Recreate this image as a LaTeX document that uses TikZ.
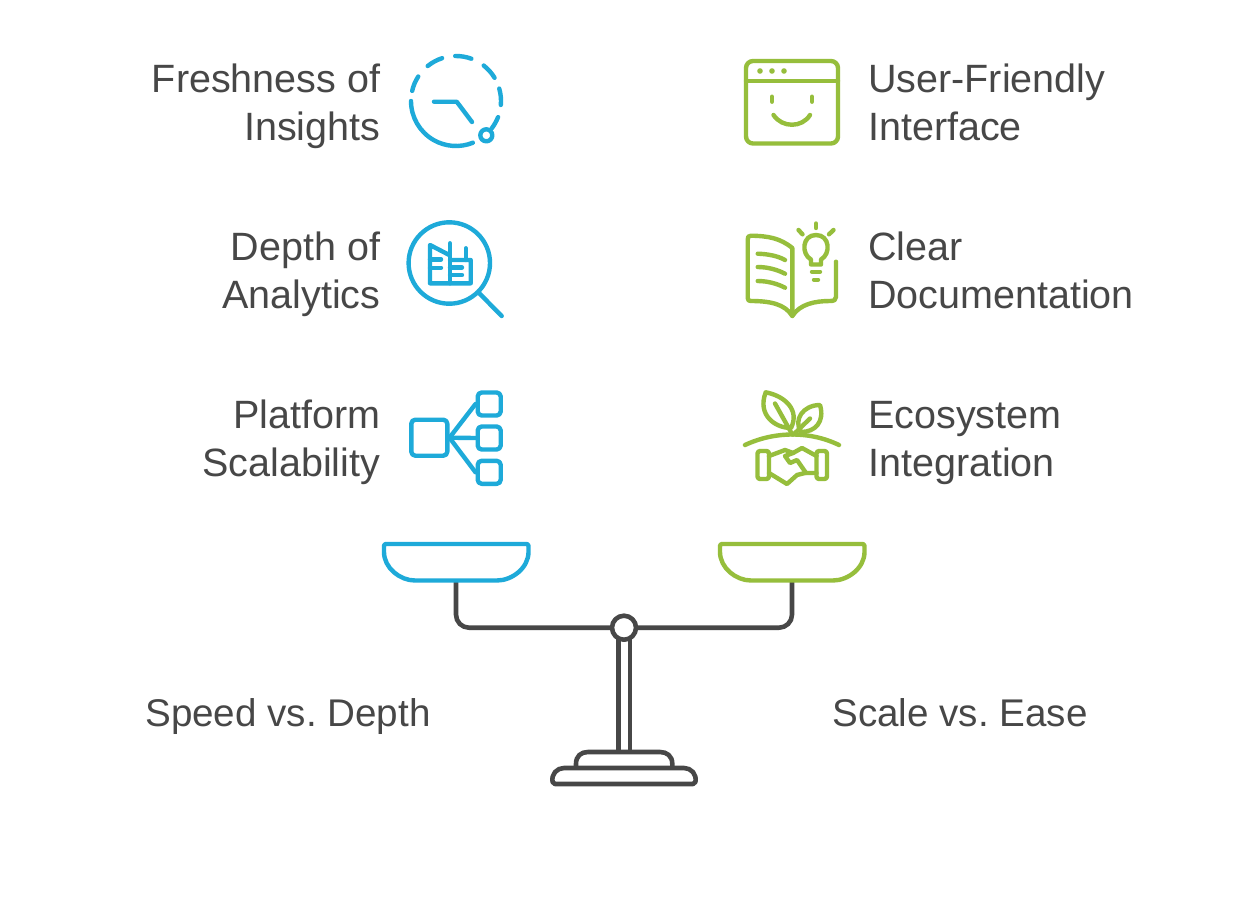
\documentclass[tikz,border=0pt]{standalone}
\usepackage{fontspec}
\setmainfont{Liberation Sans}
\usetikzlibrary{calc}
\definecolor{scaleblue}{RGB}{30,170,217}
\definecolor{scalegreen}{RGB}{150,190,60}
\definecolor{scaledark}{RGB}{71,71,71}
\tikzset{
    bluepen/.style={draw=scaleblue, line width=4.4pt, line cap=round, line join=round},
    greenpen/.style={draw=scalegreen, line width=4.4pt, line cap=round, line join=round},
    darkpen/.style={draw=scaledark, line width=4.6pt, line join=round},
    labeltext/.style={text=scaledark, font=\frenchspacing\fontsize{39.5}{48}\selectfont, inner sep=0pt},
    leftlabel/.style={labeltext, anchor=east, align=right},
    rightlabel/.style={labeltext, anchor=west, align=left},
    sidelabel/.style={labeltext, font=\frenchspacing\fontsize{38.6}{48}\selectfont},
    leafbox/.style={bluepen, rounded corners=4pt, minimum size=23pt, inner sep=0pt}
}

\begin{document}
\begin{tikzpicture}[x=1pt, y=1pt]
    \useasboundingbox (0,0) rectangle (1248,-900);
    \fill[white] (0,0) rectangle (1248,-900);

    % 1. Labels
    \node[leftlabel] (fresh) at (380.5,-107) {\strut Freshness of\\\strut Insights};
    \node[leftlabel] (depth) at (380.5,-275) {\strut Depth of\\\strut Analytics};
    \node[leftlabel] (plat) at (380.5,-443) {\strut Platform\\\strut Scalability};
    \node[rightlabel] (user) at (868,-107) {\strut User-Friendly\\\strut Interface};
    \node[rightlabel] (docs) at (868,-275) {\strut Clear\\\strut Documentation};
    \node[rightlabel] (eco) at (868,-443) {\strut Ecosystem\\\strut Integration};
    \node[sidelabel] (speed) at (288,-717) {\strut Speed vs. Depth};
    \node[sidelabel] (ease) at (960,-717) {\strut Scale vs. Ease};

    % 2. Clock icon
    \coordinate (CK) at (456,-101);
    \foreach \a/\b in {180/292, 147/167, 108/129, 70/91, 31/52, -5/16, -37.5/-21}
        \draw[bluepen] ($(CK)+(\a:45)$) arc (\a:\b:45);
    \draw[bluepen] (434,-101.7) -- (456.7,-101.7) -- (472,-122);
    \draw[bluepen] (486.3,-135.3) circle (6);

    % 3. Magnifier icon
    \coordinate (MG) at (449.3,-263);
    \draw[bluepen] (MG) circle (40.7);
    \draw[bluepen] (479.3,-293.3) -- (501.7,-316);
    \draw[bluepen] (449.3,-255) -- (430,-245) -- (430,-283.3) -- (470.7,-283.3)
        -- (470.7,-260) -- (450,-260);
    \draw[bluepen] (450,-243.3) -- (450,-283.3);
    \draw[bluepen] (465.7,-248.3) -- (465.7,-260);
    \draw[bluepen] (430,-259.3) -- (441,-259.3);
    \draw[bluepen] (430,-267.7) -- (441,-267.7);
    \draw[bluepen] (450,-267.5) -- (462,-267.5);
    \draw[bluepen] (450,-275) -- (462,-275);

    % 4. Tree icon
    \node[leafbox, minimum size=36pt] (hub) at (429.3,-437.7) {};
    \node[leafbox] (leafa) at (489.2,-404) {};
    \node[leafbox] (leafb) at (489.2,-438) {};
    \node[leafbox] (leafc) at (489.2,-472.3) {};
    \draw[bluepen] (hub.east) -- (leafa.west);
    \draw[bluepen] (hub.east) -- (leafb.west);
    \draw[bluepen] (hub.east) -- (leafc.west);

    % 5. Window icon
    \draw[greenpen, rounded corners=7pt] (746,-61) rectangle (838,-143.5);
    \draw[greenpen] (746,-80.7) -- (838,-80.7);
    \foreach \x in {760,772,784}
        \fill[scalegreen] (\x,-71) circle (2.8);
    \draw[greenpen] (772,-96.7) -- (772,-101.7);
    \draw[greenpen] (812,-96.7) -- (812,-101.7);
    \draw[greenpen] (773.5,-115) .. controls (782,-128) and (802,-128) .. (810,-115);

    % 6. Book icon
    \draw[greenpen] (792.3,-248) .. controls (780,-238) and (768,-236) .. (751,-235.7)
        .. controls (748,-235.7) and (747.7,-237) .. (747.7,-240) -- (747.7,-298)
        .. controls (747.7,-300.5) and (749,-301) .. (751,-301)
        .. controls (770,-301) and (785,-304) .. (792.3,-316) -- (792.3,-248);
    \draw[greenpen] (792.3,-316) .. controls (800,-304) and (815,-301) .. (830,-301)
        .. controls (834,-301) and (836,-300) .. (836,-297) -- (836,-261.7);
    \draw[greenpen] (757.7,-253.7) .. controls (768,-254) and (778,-256) .. (785,-260);
    \draw[greenpen] (757.7,-267) .. controls (768,-267) and (778,-270) .. (785,-273.7);
    \draw[greenpen] (757.7,-281) .. controls (768,-281) and (778,-284) .. (785,-287.7);
    \draw[greenpen] (811,-264.5) -- (811,-259.5)
        .. controls (801,-254) and (802,-235) .. (816,-235)
        .. controls (830,-235) and (831,-254) .. (821,-259.5) -- (821,-264.5) -- cycle;
    \draw[greenpen] (812,-271.7) -- (820,-271.7);
    \draw[greenpen] (814,-279.7) -- (818,-279.7);
    \draw[greenpen] (816,-223.5) -- (816,-228);
    \draw[greenpen] (798.5,-230) -- (802.5,-234.3);
    \draw[greenpen] (833.5,-230) -- (829,-234.3);

    % 7. Plant and handshake icon
    \draw[greenpen] (765.7,-392.3) .. controls (785,-396) and (800,-410) .. (791,-428)
        .. controls (775,-428) and (757,-415) .. (765.7,-392.3) -- cycle;
    \draw[greenpen] (775,-403.5) -- (792.3,-434.5);
    \draw[greenpen] (820,-405) .. controls (803,-405) and (793,-420) .. (801,-432)
        .. controls (815,-432) and (825,-422) .. (820,-405) -- cycle;
    \draw[greenpen] (810,-418.5) -- (793.5,-434.5);
    \draw[greenpen] (745,-445) .. controls (775,-431) and (810,-431) .. (839,-445);
    \draw[greenpen, rounded corners=2.5pt] (757.5,-451) rectangle (769,-479);
    \draw[greenpen, rounded corners=2.5pt] (816.5,-451) rectangle (827,-479);
    \draw[greenpen] (769,-456) -- (785,-450) -- (793,-453) -- (802,-448) -- (816.5,-456);
    \draw[greenpen] (769,-473) -- (787,-484) -- (797,-475) -- (805,-473) -- (816.5,-473);
    \draw[greenpen] (793,-453) -- (785,-456) -- (790,-463) -- (797,-460) -- (806,-473);

    % 8. Scale
    \coordinate (PV) at (624,-627.7);
    \draw[darkpen, rounded corners=13pt] (456,-581) -- (456,-627.7) -- (792,-627.7) -- (792,-581);
    \draw[darkpen] (618.3,-638) -- (618.3,-752);
    \draw[darkpen] (630,-638) -- (630,-752);
    \draw[darkpen, fill=white] (PV) circle (12);
    \draw[darkpen] (576,-767) -- (576,-764) .. controls (576,-756) and (581,-752) .. (588,-752)
        -- (660,-752) .. controls (667,-752) and (672.3,-756) .. (672.3,-764) -- (672.3,-767);
    \draw[darkpen, rounded corners=2pt] (553,-784) .. controls (551,-774) and (557,-768) .. (566,-768)
        -- (682,-768) .. controls (691,-768) and (697,-774) .. (695,-784) -- cycle;

    % 9. Pans
    \draw[bluepen, rounded corners=2pt, fill=white] (384,-544) -- (528.5,-544) -- (528.5,-550)
        .. controls (528.5,-568) and (512,-580.5) .. (495,-580.5) -- (417,-580.5)
        .. controls (400,-580.5) and (384,-568) .. (384,-550) -- cycle;
    \draw[greenpen, rounded corners=2pt, fill=white] (720,-544) -- (864.5,-544) -- (864.5,-550)
        .. controls (864.5,-568) and (848,-580.5) .. (831,-580.5) -- (753,-580.5)
        .. controls (736,-580.5) and (720,-568) .. (720,-550) -- cycle;

\end{tikzpicture}
\end{document}
